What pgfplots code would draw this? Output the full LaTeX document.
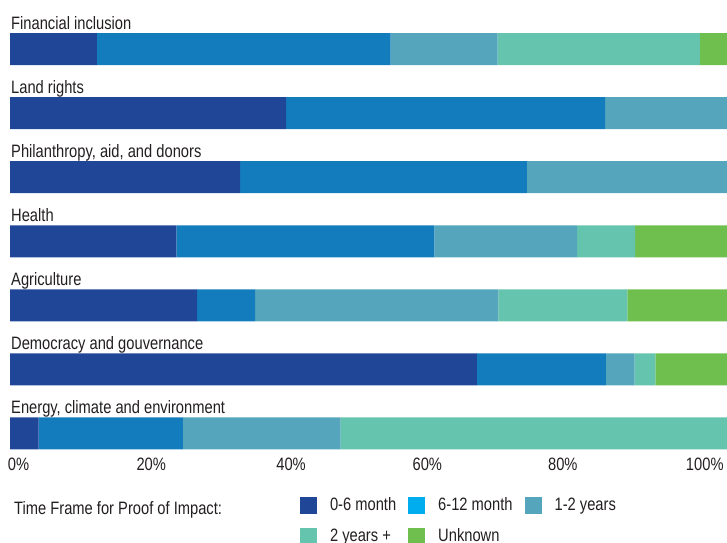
\documentclass[border=0pt]{standalone}
\usepackage{fontspec}
\setmainfont{Liberation Sans}[FakeStretch=0.82]
\usepackage{pgfplots}
\usepackage{pgfplotstable}
\pgfplotsset{compat=1.18}

\definecolor{cA}{HTML}{1F4697}
\definecolor{cB}{HTML}{137CBD}
\definecolor{cBleg}{HTML}{00AEEF}
\definecolor{cC}{HTML}{55A6BC}
\definecolor{cD}{HTML}{64C4AE}
\definecolor{cE}{HTML}{6FBF4F}
\definecolor{txt}{HTML}{231F20}

% share of projects per time frame (%), one row per sector
\pgfplotstableread{
cat a    b    c    d    e
0   12.1 41.0 14.9 28.2 3.8
1   38.5 44.5 17.0 0    0
2   32.1 40.0 27.9 0    0
3   23.2 36.0 19.9 8.1  12.8
4   26.1 8.1  33.9 18.0 13.9
5   65.1 18.0 4.0  2.9  10.0
6   4.0  20.1 22.0 53.9 0
}\impact

\begin{document}
\fontsize{18}{21}\selectfont
\begin{tikzpicture}
\begin{axis}[
    scale only axis,
    width=717bp, height=452bp,
    xbar stacked, bar width=32bp,
    xmin=0, xmax=100,
    ymin=-0.765, ymax=6.289, y dir=reverse,
    axis line style={draw=none},
    major tick length=0pt,
    font=\fontsize{18}{21}\selectfont,
    /pgf/number format/assume math mode=true,
    xtick={1.2,19.7,39.2,58.2,77.1,96.9},
    xticklabels={0\%,20\%,40\%,60\%,80\%,100\%},
    xticklabel style={text=txt},
    ytick={0,...,6},
    yticklabels={Financial inclusion, Land rights, {Philanthropy, aid, and donors},
        Health, Agriculture, Democracy and gouvernance,
        {Energy, climate and environment}},
    yticklabel style={anchor=base west, inner sep=0pt, xshift=1bp, yshift=20bp, text=txt},
    legend columns=3,
    legend cell align=left,
    legend style={at={(axis description cs:0.4045,-0.0996)}, anchor=north west,
        draw=none, fill=none, inner sep=0pt, outer sep=0pt,
        column sep=13bp, row sep=14bp,
        /tikz/every even column/.append style={column sep=12bp},
        nodes={inner sep=0pt, text height=13bp, text depth=3bp, text=txt}},
]
\addplot[draw=none, fill=cA,
    legend image code/.code={\fill[cA] (0bp,-8.5bp) rectangle (17bp,8.5bp);}]
    table[x=a, y=cat] {\impact};
\addplot[draw=none, fill=cB,
    legend image code/.code={\fill[cBleg] (0bp,-8.5bp) rectangle (17bp,8.5bp);}]
    table[x=b, y=cat] {\impact};
\addplot[draw=none, fill=cC,
    legend image code/.code={\fill[cC] (0bp,-8.5bp) rectangle (17bp,8.5bp);}]
    table[x=c, y=cat] {\impact};
\addplot[draw=none, fill=cD,
    legend image code/.code={\fill[cD] (0bp,-8.5bp) rectangle (17bp,8.5bp);}]
    table[x=d, y=cat] {\impact};
\addplot[draw=none, fill=cE,
    legend image code/.code={\fill[cE] (0bp,-8.5bp) rectangle (17bp,8.5bp);}]
    table[x=e, y=cat] {\impact};
\legend{0-6 month, 6-12 month, 1-2 years, 2 years +, Unknown}
\end{axis}
\node[anchor=base west, inner sep=0pt, text=txt] at (4bp,-62bp) {Time Frame for Proof of Impact:};
\pgfresetboundingbox
\path[use as bounding box] (-10bp,-91bp) rectangle (717bp,452bp);
\end{tikzpicture}
\end{document}
